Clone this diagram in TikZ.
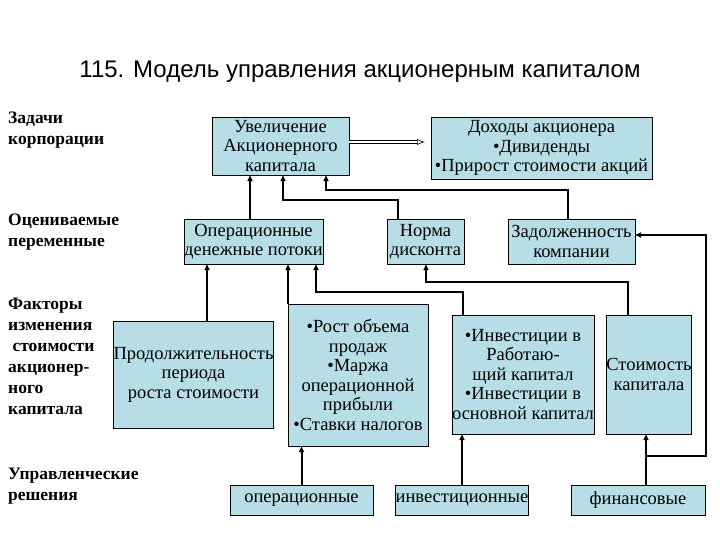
\documentclass[tikz,border=0pt]{standalone}
\usepackage{fontspec}
\setmainfont{Liberation Serif}
\newfontfamily\ttl{Liberation Sans}
\usetikzlibrary{arrows.meta}
\definecolor{bx}{RGB}{183,222,230}
\begin{document}
\begin{tikzpicture}[x=1pt,y=-1pt,
 box/.style={draw,fill=bx,inner sep=0pt,align=center,font=\fontsize{18.5}{19.5}\selectfont},
 lab/.style={anchor=north west,align=left,font=\bfseries\fontsize{17.5}{21}\selectfont,inner sep=0pt},
 con/.style={line width=2pt,-{Triangle[length=6pt,width=5pt]}},
 thin/.style={line width=1.5pt,-{Triangle[length=6pt,width=5pt]}}]
\useasboundingbox (0,0) rectangle (720,540);
\node[font=\ttl\fontsize{24}{28}\selectfont] (title) at (360,72) {115. Модель управления акционерным капиталом};
\node[lab] (l1) at (8,112) {Задачи\\корпорации};
\node[lab] (l2) at (8,214) {Оцениваемые\\переменные};
\node[lab] (l3) at (8,298) {Факторы\\изменения\\\ стоимости\\акционер-\\ного\\капитала};
\node[lab] (l4) at (8,468) {Управленческие\\решения};
\node[box,minimum width=137,minimum height=58] (uv) at (280.5,146) {Увеличение\\Акционерного\\капитала};
\node[box,minimum width=221,minimum height=62] (doh) at (541.5,148) {Доходы акционера\\•Дивиденды\\•Прирост стоимости акций};
\node[box,minimum width=137,minimum height=45] (odp) at (253.5,241.5) {Операционные\\денежные потоки};
\node[box,minimum width=77,minimum height=45] (nd) at (425.5,241.5) {Норма\\дисконта};
\node[box,minimum width=127,minimum height=45] (zk) at (571.5,241.5) {Задолженность\\компании};
\node[box,minimum width=155,minimum height=107] (pr) at (193.5,374.5) {Продолжительность\\периода\\роста стоимости};
\node[box,minimum width=140,minimum height=142] (ro) at (358,375) {•Рост объема\\продаж\\•Маржа\\операционной\\прибыли\\•Ставки налогов};
\node[box,minimum width=142,minimum height=119] (inv) at (523,374.5) {•Инвестиции в\\Работаю-\\щий капитал\\•Инвестиции в\\основной капитал};
\node[box,minimum width=82,minimum height=119] (sk) at (649,374.5) {Стоимость\\капитала};
\node[box,minimum width=143,minimum height=30] (op) at (301.5,500) {операционные};
\node[box,minimum width=132,minimum height=30] (in) at (462,500) {инвестиционные};
\node[box,minimum width=134,minimum height=30] (fin) at (638,500) {финансовые};
\coordinate (j) at (646,456);
\draw[con] (odp.north -| 250,0) -- (uv.south -| 250,0);
\draw[thin] (nd.north -| 398,0) |- (283,200) -- (uv.south -| 283,0);
\draw[thin] (zk.north -| 568,0) |- (326,190) -- (uv.south -| 326,0);
\draw[double,double distance=2pt,line width=0.6pt,-{Latex[open,length=8pt,width=6pt]}] (uv.east |- 0,142) -- (425,142);
\draw[con] (pr.north -| 207,0) -- (odp.south -| 207,0);
\draw[thin] (ro.north -| 288,0) -- (odp.south -| 288,0);
\draw[thin] (inv.north -| 463,0) |- (316,292) -- (odp.south -| 316,0);
\draw[thin] (sk.north -| 628,0) |- (426,282) -- (nd.south -| 426,0);
\draw[con] (op) -- (ro.south -| op);
\draw[con] (in.north -| 462,0) -- (inv.south -| 462,0);
\draw[line width=2pt] (fin.north -| j) -- (j);
\draw[thin] (j) -- (sk.south -| j);
\draw[thin] (j) -| (706,235) -- (zk.east |- 0,235);
\end{tikzpicture}
\end{document}
